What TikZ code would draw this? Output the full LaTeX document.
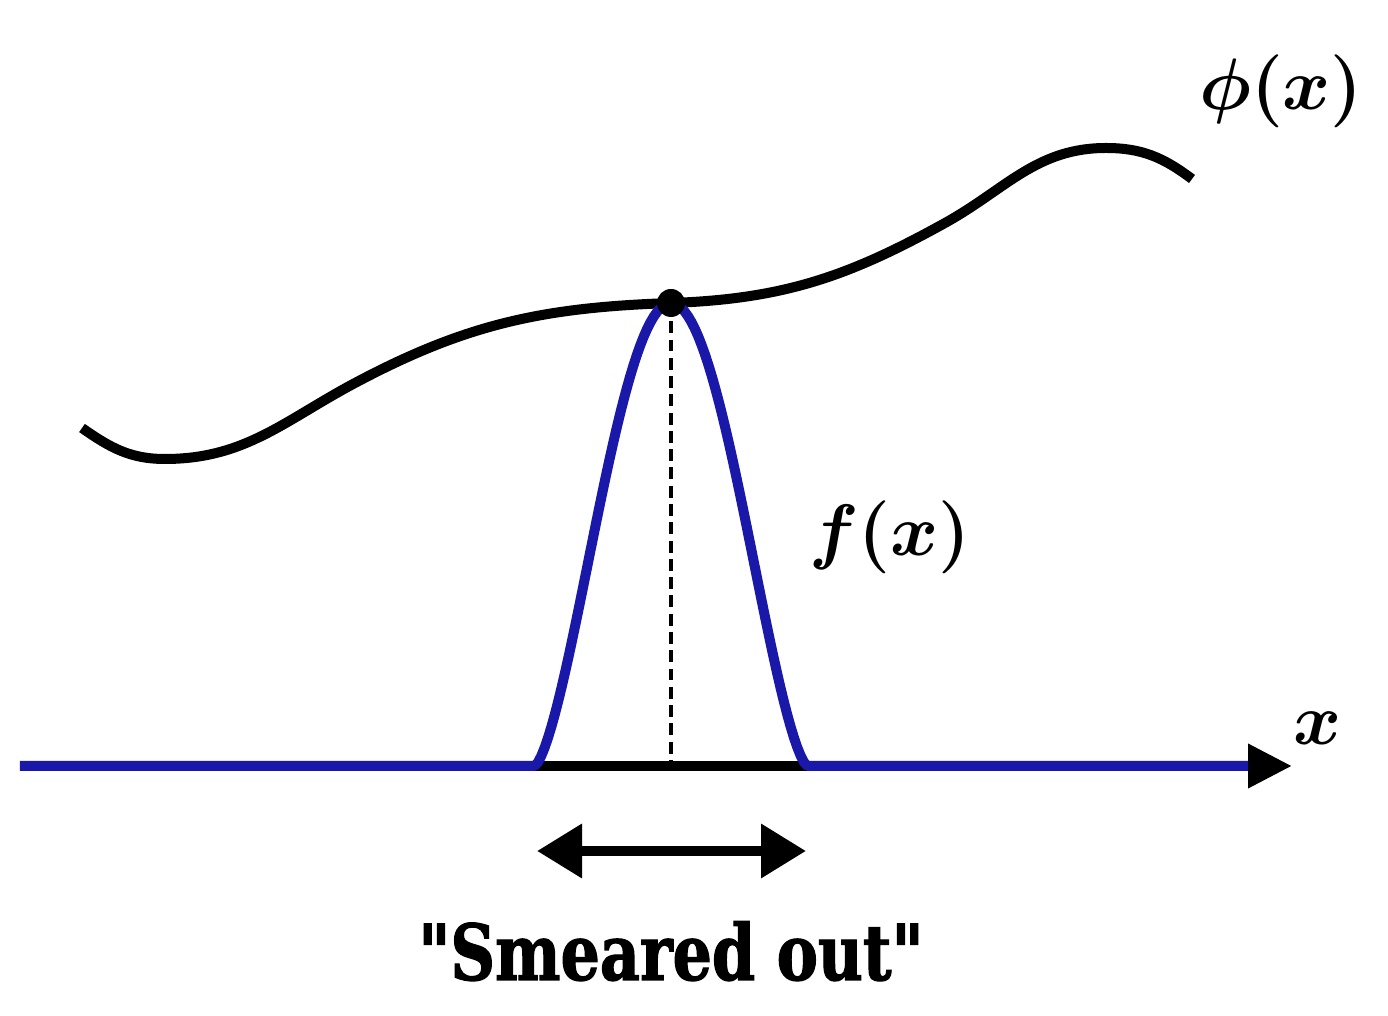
\documentclass[tikz,border=0pt]{standalone}
\usepackage{amsmath}
\usepackage{fontspec}
\newfontfamily\smearfont{DejaVu Serif}[FakeStretch=0.8,FakeBold=1.5]
\usetikzlibrary{positioning}
\usetikzlibrary{arrows.meta}
\definecolor{fblue}{RGB}{26,24,168}

\begin{document}
\begin{tikzpicture}[thickline/.style={line width=1mm},
  mathlbl/.style={font=\fontsize{22}{26}\selectfont\boldmath}]
\useasboundingbox (0,0) rectangle (13.88,10.16);
%\draw[help lines] (0,0) grid (14,10);
\coordinate (xstart) at (0.2,2.5);
\coordinate (xend) at (12.92,2.5);
\coordinate (bluend) at (12.48,2.5);
\coordinate (peak) at (6.71,7.13);
\coordinate (foot) at (6.71,2.5);
\coordinate (wleft) at (5.37,1.65);
\coordinate (wright) at (8.06,1.65);

% axis
\draw [thickline, -{Triangle[length=0.44cm,width=0.42cm]}] (xstart) -- (xend);

% phi(x)
\draw [thickline] (0.82,5.88) to[out=-35,in=180] (1.65,5.57) to[out=0,in=208] (3.55,6.33)
  to[out=28,in=182] (peak) to[out=2,in=209] (9.45,7.93)
  to[out=29,in=180] (11.06,8.68) to[out=0,in=143] (11.92,8.37);

% f(x)
\draw [thickline, fblue, line join=round] (xstart) -- (5.345,2.5)
  -- plot [domain=-1:1, samples=81] ({6.71+1.365*\x},{2.5+4.63*cos(90*\x)*sqrt(abs(cos(90*\x)))})
  -- (bluend);

\draw [line width=0.35mm, dash pattern=on 3.4pt off 1.8pt] (peak) -- (foot);
\fill (peak) circle (0.14);

\draw [thickline, {Triangle[length=0.45cm,width=0.52cm]}-{Triangle[length=0.45cm,width=0.52cm]}] (wleft) -- (wright);

\node [mathlbl] (phi) at (12.81,9.25) {$\phi(x)$};
\node [mathlbl] (flbl) at (8.90,4.79) {$f(x)$};
\node [mathlbl, inner sep=0pt] (xlbl) at (13.18,2.88) {$x$};
\node [anchor=base, font=\smearfont\bfseries\fontsize{22}{26}\selectfont] (smear) at (6.71,0.36) {"Smeared out"};

\end{tikzpicture}
\end{document}
